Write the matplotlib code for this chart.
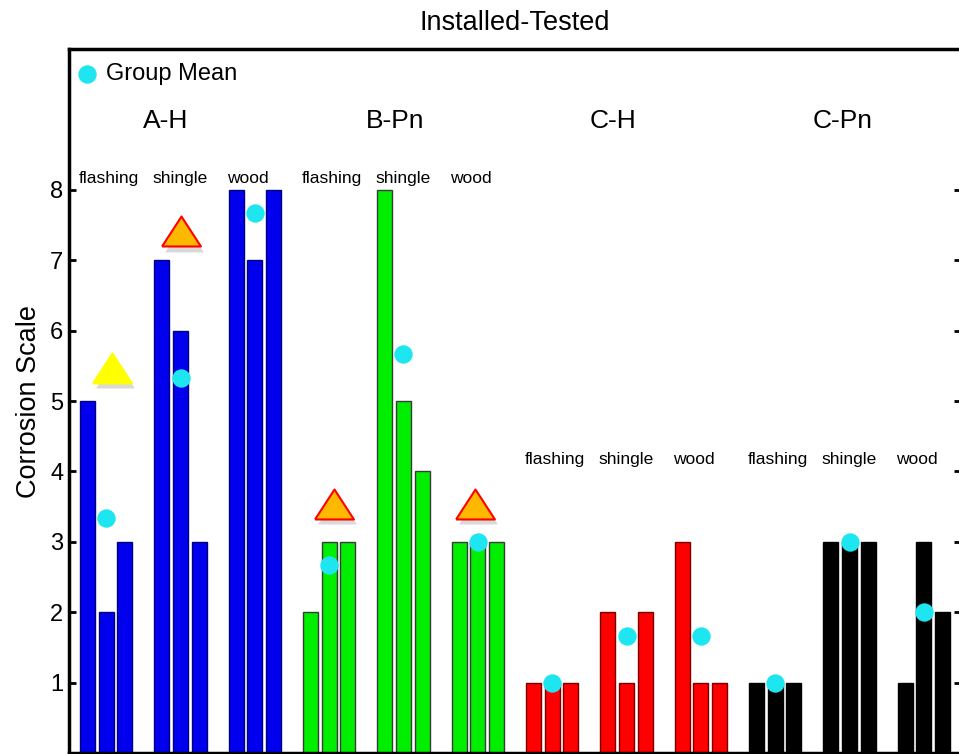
import matplotlib.pyplot as plt
import matplotlib.transforms as mtransforms
import numpy as np

plt.rcParams['font.family'] = ['Liberation Sans', 'DejaVu Sans']

groups = ['A-H', 'B-Pn', 'C-H', 'C-Pn']
subgroups = ['flashing', 'shingle', 'wood']
colors = ['#0000EE', '#00EE00', '#FF0000', '#000000']
edges = ['#00007A', '#3A3A3A', '#7A0000', '#000000']

# three specimens per subgroup, flashing / shingle / wood
scores_AH = [[5, 2, 3], [7, 6, 3], [8, 7, 8]]
scores_BPn = [[2, 3, 3], [8, 5, 4], [3, 3, 3]]
scores_CH = [[1, 1, 1], [2, 1, 2], [3, 1, 1]]
scores_CPn = [[1, 1, 1], [3, 3, 3], [1, 3, 2]]
all_scores = [scores_AH, scores_BPn, scores_CH, scores_CPn]

# subgroup label heights
sub_label_y = [8.1, 8.1, 4.1, 4.1]

# warning triangles: (x position, y value, face color, edge color)
tri_x = [1.3, 5.05, 13.25, 20.85]
tri_y = [5.47, 7.41, 3.54, 3.54]
tri_face = ['#FFFF00', '#FFB800', '#FFB800', '#FFB800']
tri_edge = ['#FFFF00', '#FF0000', '#FF0000', '#FF0000']

fig = plt.figure(figsize=(9.59, 7.54), dpi=100)
ax = fig.add_axes([69 / 959, 1 / 754, 892 / 959, 704 / 754])

mean_x = []
mean_y = []
for g, scores in enumerate(all_scores):
    for s, vals in enumerate(scores):
        start = (g * 3 + s) * 4
        xs = np.arange(3) + start
        ax.bar(xs, vals, width=0.8, color=colors[g], edgecolor=edges[g], linewidth=1, zorder=2)
        mean_x.append(start + 1)
        mean_y.append(np.mean(vals))
        ax.text(start - 0.5, sub_label_y[g], subgroups[s], fontsize=12.5, ha='left', va='baseline')
    ax.text(g * 12 + 3, 8.88, groups[g], fontsize=19, ha='left', va='baseline')

ax.scatter(mean_x, mean_y, s=175, color='#1EE6F0', zorder=4, linewidths=0, label='Group Mean')

tri = [(-1, -0.77), (1, -0.77), (0, 0.77), (-1, -0.77)]
shadow = mtransforms.offset_copy(ax.transData, fig=fig, x=2, y=-4, units='points')
for i in range(len(tri_x)):
    ax.plot(tri_x[i], tri_y[i], marker=tri, markersize=28, color='#000000', alpha=0.15,
            markeredgewidth=0, transform=shadow, zorder=3)
    ax.plot(tri_x[i], tri_y[i], marker=tri, markersize=28, markerfacecolor=tri_face[i],
            markeredgecolor=tri_edge[i], markeredgewidth=1.5, zorder=4)

ax.set_xlim(-1, 47)
ax.set_ylim(0, 10)
ax.set_yticks(range(1, 9))
ax.set_xticks([])
ax.tick_params(axis='y', direction='in', length=5, width=2, labelsize=17, pad=4, right=True)
for sp in ax.spines.values():
    sp.set_linewidth(2.5)

ax.set_ylabel('Corrosion Scale', fontsize=19.5, labelpad=6)
ax.set_title('Installed-Tested', fontsize=19.5, pad=14, x=(515 - 69) / 892)

ax.legend(loc='upper left', bbox_to_anchor=(-0.006, 1.0), frameon=False, fontsize=17,
          handlelength=0.8, handletextpad=0.38, borderaxespad=0.0, borderpad=0.6)

plt.savefig('out.png', dpi=100)
